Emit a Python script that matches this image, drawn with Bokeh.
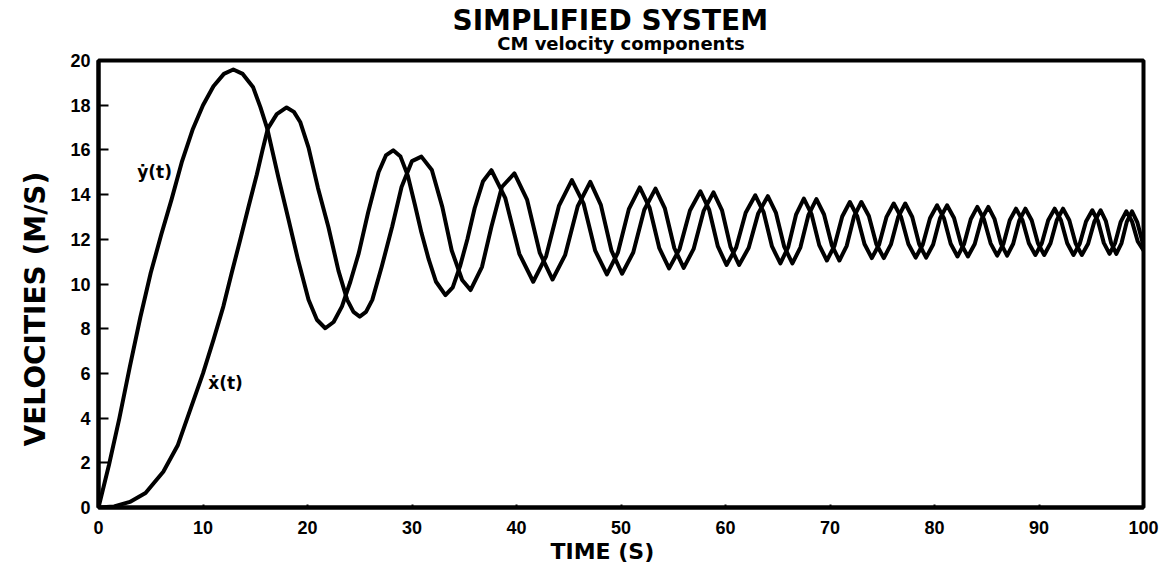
from bokeh.plotting import figure
from bokeh.models import Range1d, Label, Title, FixedTicker, ColumnDataSource
from bokeh.embed import file_html
from bokeh.resources import INLINE

# ---------------- data ----------------
ydot_t = [0, 1, 2, 3, 4, 5, 6, 7, 8, 9, 10, 11, 12, 12.9, 13.8, 14.8, 15.5, 16.15,
          17.2, 18.2, 19.1, 20.1, 20.9, 21.7, 22.5, 23.3, 24.1, 24.9, 25.8, 26.8, 27.5,
          28.2, 28.9, 29.6, 30.3, 30.9, 31.6, 32.3, 33.2, 33.9, 34.6, 35.3, 36.0, 36.8,
          37.6, 38.93, 40.27, 41.6, 42.83, 44.07, 45.3, 46.42, 47.53, 48.65, 49.7, 50.75,
          51.8, 52.73, 53.67, 54.6, 55.6, 56.6, 57.6, 58.43, 59.27, 60.1, 61.02, 61.93,
          62.85, 63.65, 64.45, 65.25, 66.0, 66.75, 67.5, 68.23, 68.97, 69.7, 70.43, 71.17,
          71.9, 72.6, 73.3, 74.0, 74.7, 75.4, 76.1, 76.8, 77.5, 78.2, 78.88, 79.57,
          80.25, 80.9, 81.55, 82.2, 82.83, 83.47, 84.1, 84.73, 85.37, 86.0, 86.6, 87.2,
          87.8, 88.42, 89.03, 89.65, 90.27, 90.88, 91.5, 92.1, 92.7, 93.3, 93.9, 94.5,
          95.1, 95.65, 96.2, 96.75, 97.28, 97.82, 98.35, 98.9, 99.45, 100]
ydot_v = [0, 1.9, 4.0, 6.3, 8.5, 10.5, 12.2, 13.8, 15.5, 16.9, 18.0, 18.85, 19.4, 19.6, 19.4, 18.8, 17.9, 16.95,
          14.8, 12.85, 11.07, 9.3, 8.4, 8.02, 8.3, 9.0, 10.1, 11.37, 13.2, 15.0, 15.75,
          15.98, 15.7, 14.85, 13.5, 12.3, 11.1, 10.1, 9.5, 9.85, 10.8, 12.0, 13.4, 14.6,
          15.09, 13.84, 11.35, 10.1, 11.24, 13.51, 14.65, 13.6, 11.49, 10.43, 11.4, 13.35,
          14.32, 13.42, 11.6, 10.7, 11.56, 13.29, 14.15, 13.33, 11.68, 10.85, 11.63, 13.19,
          13.97, 13.21, 11.68, 10.92, 11.65, 13.1, 13.82, 13.13, 11.74, 11.05, 11.71, 13.02,
          13.67, 13.04, 11.79, 11.16, 11.77, 12.99, 13.6, 13.0, 11.79, 11.18, 11.77, 12.94,
          13.52, 12.95, 11.8, 11.23, 11.79, 12.9, 13.45, 12.9, 11.82, 11.27, 11.8, 12.85,
          13.37, 12.85, 11.82, 11.3, 11.82, 12.85, 13.37, 12.85, 11.82, 11.3, 11.8, 12.8,
          13.3, 12.81, 11.84, 11.35, 11.83, 12.78, 13.25, 12.8, 11.9, 11.5]

xdot_t = [0, 1.5, 3.0, 4.5, 6.2, 7.6, 8.8, 10.0, 11.0, 11.95, 12.75, 13.55, 14.35, 15.15,
          15.7, 16.2, 17.06, 18.0, 18.7, 19.3, 20.1, 21.0, 22.0, 22.96, 23.8, 24.4, 25.0,
          25.6, 26.2, 27.1, 28.1, 29.0, 30.0, 30.9, 31.9, 32.9, 33.8, 34.8, 35.6, 36.7,
          37.6, 38.6, 39.8, 41.02, 42.23, 43.45, 44.65, 45.86, 47.06, 48.07, 49.09, 50.1,
          51.17, 52.23, 53.3, 54.2, 55.1, 56.0, 56.95, 57.9, 58.85, 59.67, 60.48, 61.3,
          62.22, 63.13, 64.05, 64.83, 65.62, 66.4, 67.17, 67.93, 68.7, 69.43, 70.17, 70.9,
          71.6, 72.3, 73.0, 73.72, 74.43, 75.15, 75.83, 76.52, 77.2, 77.87, 78.53, 79.2,
          79.87, 80.53, 81.2, 81.87, 82.53, 83.2, 83.85, 84.5, 85.15, 85.75, 86.35, 86.95,
          87.53, 88.12, 88.7, 89.3, 89.9, 90.5, 91.1, 91.7, 92.3, 92.9, 93.5, 94.1,
          94.7, 95.3, 95.9, 96.4, 96.9, 97.4, 97.9, 98.4, 98.9, 99.4, 100]
xdot_v = [0, 0.05, 0.25, 0.65, 1.6, 2.8, 4.4, 6.0, 7.5, 9.0, 10.5, 11.96, 13.45, 14.9,
          16.0, 16.95, 17.6, 17.9, 17.7, 17.25, 16.1, 14.3, 12.55, 10.6, 9.29, 8.75, 8.54,
          8.75, 9.29, 10.77, 12.56, 14.34, 15.5, 15.7, 15.1, 13.45, 11.5, 10.18, 9.73, 10.77,
          12.56, 14.34, 14.95, 13.76, 11.39, 10.2, 11.29, 13.48, 14.57, 13.54, 11.49, 10.46,
          11.41, 13.32, 14.27, 13.38, 11.61, 10.72, 11.57, 13.26, 14.1, 13.29, 11.66, 10.85,
          11.62, 13.16, 13.93, 13.18, 11.67, 10.92, 11.64, 13.08, 13.8, 13.11, 11.74, 11.05,
          11.71, 13.02, 13.67, 13.04, 11.79, 11.16, 11.77, 12.99, 13.6, 13.0, 11.79, 11.18,
          11.77, 12.94, 13.52, 12.95, 11.8, 11.23, 11.79, 12.9, 13.45, 12.9, 11.82, 11.27,
          11.8, 12.85, 13.37, 12.85, 11.82, 11.3, 11.82, 12.85, 13.37, 12.85, 11.82, 11.3,
          11.8, 12.8, 13.3, 12.81, 11.84, 11.35, 11.83, 12.78, 13.25, 12.77, 11.7]

x_ticks = [0, 10, 20, 30, 40, 50, 60, 70, 80, 90, 100]
y_ticks = [0, 2, 4, 6, 8, 10, 12, 14, 16, 18, 20]

title_text = "SIMPLIFIED SYSTEM"
subtitle_text = "CM velocity components"
x_label = "TIME (S)"
y_label = "VELOCITIES (M/S)"
series_labels = ["ẏ(t)", "ẋ(t)"]

# ---------------- figure ----------------
p = figure(width=1159, height=563, output_backend="svg", toolbar_location=None, title=None,
           x_range=Range1d(0, 100), y_range=Range1d(0, 20),
           min_border_left=98, min_border_right=16, min_border_top=60, min_border_bottom=55)
p.background_fill_color = "white"
p.border_fill_color = "white"
p.xgrid.visible = False
p.ygrid.visible = False
p.outline_line_color = "black"
p.outline_line_width = 4

tick_font = "Liberation Sans"
for ax, ticks in ((p.xaxis[0], x_ticks), (p.yaxis[0], y_ticks)):
    ax.ticker = FixedTicker(ticks=ticks)
    ax.axis_line_width = 4
    ax.axis_line_color = "black"
    ax.major_tick_out = 0
    ax.major_tick_line_width = 2
    ax.minor_tick_in = 0
    ax.minor_tick_out = 0
    ax.major_label_text_font = tick_font
    ax.major_label_text_font_style = "bold"
    ax.major_label_text_font_size = "18px"
    ax.major_label_text_color = "black"

p.yaxis[0].major_tick_in = 10
p.yaxis[0].major_label_standoff = 8
p.xaxis[0].major_tick_in = 3
p.xaxis[0].major_label_standoff = 13

src_y = ColumnDataSource(dict(t=ydot_t, v=ydot_v))
src_x = ColumnDataSource(dict(t=xdot_t, v=xdot_v))
p.line("t", "v", source=src_y, line_color="black", line_width=4, line_join="round")
p.line("t", "v", source=src_x, line_color="black", line_width=4, line_join="round")

# ---------------- titles and axis titles ----------------
p.add_layout(Title(text=subtitle_text, align="center", standoff=14,
                   text_font="DejaVu Sans", text_font_style="bold", text_font_size="18px",
                   text_color="black"), "above")
p.add_layout(Title(text=title_text, align="left", offset=354, standoff=-27,
                   text_font="DejaVu Sans", text_font_style="bold", text_font_size="28px",
                   text_color="black"), "above")
p.add_layout(Title(text=y_label, align="left", offset=61, standoff=32,
                   text_font="DejaVu Sans", text_font_style="bold", text_font_size="28px",
                   text_color="black"), "left")
p.add_layout(Title(text=x_label, align="left", offset=452, standoff=0,
                   text_font="DejaVu Sans", text_font_style="bold", text_font_size="22px",
                   text_color="black"), "below")

# ---------------- curve labels ----------------
p.add_layout(Label(x=3.7, y=15.0, text=series_labels[0], text_align="left", text_baseline="middle",
                   text_font="DejaVu Sans", text_font_style="bold", text_font_size="17px",
                   text_color="black"))
p.add_layout(Label(x=10.5, y=5.58, text=series_labels[1], text_align="left", text_baseline="middle",
                   text_font="DejaVu Sans", text_font_style="bold", text_font_size="17px",
                   text_color="black"))

open("out.html", "w").write(file_html(p, INLINE))
